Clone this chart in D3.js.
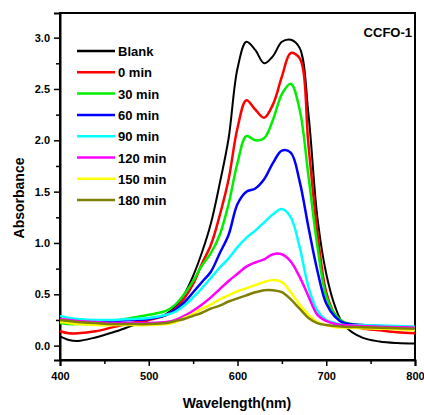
<!DOCTYPE html>
<html><head><meta charset="utf-8">
<script src="https://cdn.jsdelivr.net/npm/d3@7"></script>
<style>body{margin:0;background:#fff}svg{display:block}text{font-family:"Liberation Sans",Arial,sans-serif;font-weight:bold}</style>
</head><body><svg id="c" width="424" height="415"></svg>
<script>
const wavelengths = [400,410,420,440,460,480,500,520,530,540,550,560,570,580,590,600,610,620,630,640,650,660,670,680,690,700,710,720,740,760,780,800];
const seriesNames = ["Blank","0 min","30 min","60 min","90 min","120 min","150 min","180 min"];
const seriesColors = ["#000000","#ff0000","#00ee00","#0000ff","#00ffff","#ff00ff","#ffff00","#808000"];
const blank = [0.09,0.055,0.045,0.08,0.13,0.19,0.25,0.31,0.38,0.5,0.68,0.91,1.19,1.58,2.02,2.7,2.96,2.88,2.75,2.82,2.96,2.98,2.9,2.25,1.25,0.7,0.38,0.2,0.08,0.04,0.025,0.02];
const min0 = [0.14,0.12,0.12,0.14,0.18,0.22,0.25,0.3,0.36,0.46,0.6,0.8,0.98,1.27,1.62,2.12,2.39,2.3,2.22,2.35,2.62,2.85,2.8,1.95,1.1,0.52,0.3,0.22,0.17,0.15,0.13,0.12];
const min30 = [0.22,0.21,0.21,0.22,0.24,0.27,0.3,0.34,0.4,0.5,0.63,0.78,0.9,1.08,1.38,1.78,2.04,2.0,2.02,2.2,2.45,2.55,2.3,1.65,0.97,0.48,0.3,0.23,0.2,0.19,0.185,0.18];
const min60 = [0.25,0.24,0.24,0.23,0.24,0.25,0.26,0.3,0.35,0.42,0.52,0.62,0.72,0.9,1.08,1.38,1.5,1.53,1.62,1.78,1.9,1.88,1.6,1.15,0.73,0.41,0.28,0.22,0.2,0.19,0.185,0.18];
const min90 = [0.29,0.27,0.26,0.25,0.25,0.26,0.27,0.3,0.33,0.39,0.47,0.56,0.66,0.76,0.85,0.96,1.05,1.12,1.2,1.28,1.33,1.25,0.96,0.57,0.34,0.25,0.22,0.2,0.2,0.195,0.19,0.185];
const min120 = [0.26,0.25,0.24,0.23,0.22,0.22,0.22,0.23,0.25,0.29,0.34,0.4,0.47,0.55,0.63,0.7,0.77,0.81,0.84,0.89,0.89,0.82,0.67,0.48,0.3,0.24,0.21,0.2,0.19,0.185,0.18,0.175];
const min150 = [0.23,0.22,0.21,0.2,0.2,0.2,0.2,0.21,0.23,0.27,0.31,0.36,0.4,0.45,0.49,0.53,0.56,0.59,0.62,0.64,0.62,0.52,0.4,0.3,0.23,0.2,0.18,0.175,0.17,0.165,0.16,0.15];
const min180 = [0.25,0.24,0.23,0.22,0.21,0.21,0.21,0.22,0.24,0.26,0.29,0.32,0.36,0.39,0.43,0.46,0.49,0.52,0.54,0.54,0.52,0.45,0.36,0.27,0.22,0.2,0.19,0.185,0.18,0.175,0.17,0.165];
const allSeries = [blank,min0,min30,min60,min90,min120,min150,min180];
const xTicks = [400,500,600,700,800];
const yTicks = [0.0,0.5,1.0,1.5,2.0,2.5,3.0];

const svg = d3.select("#c");
const x = d3.scaleLinear().domain([400,800]).range([60,415]);
const y = d3.scaleLinear().domain([-0.14,3.24]).range([360,13]);

svg.append("rect").attr("x",60).attr("y",13).attr("width",355).attr("height",347)
  .attr("fill","none").attr("stroke","#000").attr("stroke-width",2);

const xAxis = d3.axisBottom(x).tickValues(xTicks).tickFormat(d3.format("d")).tickSize(6).tickPadding(6);
const gx = svg.append("g").attr("transform","translate(0,360)").call(xAxis);
const xMinor = d3.axisBottom(x).tickValues([450,550,650,750]).tickFormat("").tickSize(4);
svg.append("g").attr("transform","translate(0,360)").call(xMinor).select(".domain").remove();
const yAxis = d3.axisLeft(y).tickValues(yTicks).tickFormat(d3.format(".1f")).tickSize(6).tickPadding(4);
const gy = svg.append("g").attr("transform","translate(60,0)").call(yAxis);
const yMinor = d3.axisLeft(y).tickValues([0.25,0.75,1.25,1.75,2.25,2.75,3.25].filter(v=>v<3.24)).tickFormat("").tickSize(4);
svg.append("g").attr("transform","translate(60,0)").call(yMinor).select(".domain").remove();
svg.selectAll(".domain").attr("stroke-width",2);
svg.selectAll(".tick line").attr("stroke-width",1.5);
gx.selectAll("text").style("font-size","11px").attr("fill","#000");
gy.selectAll("text").style("font-size","11px").attr("fill","#000");

const line = d3.line().x((d,i)=>x(wavelengths[i])).y(d=>y(d)).curve(d3.curveCatmullRom.alpha(0.5));
allSeries.forEach((s,i)=>{
  svg.append("path").attr("d",line(s)).attr("fill","none")
    .attr("stroke",seriesColors[i]).attr("stroke-width",i===0?2:2.5)
    .attr("stroke-linejoin","round");
});

seriesNames.forEach((n,i)=>{
  const yy = 51 + i*21.3;
  svg.append("line").attr("x1",77).attr("x2",115).attr("y1",yy).attr("y2",yy)
    .attr("stroke",seriesColors[i]).attr("stroke-width",2.5);
  svg.append("text").attr("x",118).attr("y",yy+5).style("font-size","13px").text(n);
});

svg.append("text").attr("x",412).attr("y",37).attr("text-anchor","end").style("font-size","13px").text("CCFO-1");
svg.append("text").attr("x",237).attr("y",408).attr("text-anchor","middle").style("font-size","14px").text("Wavelength(nm)");
svg.append("text").attr("transform","translate(24,198) rotate(-90)").attr("text-anchor","middle").style("font-size","14px").text("Absorbance");
</script></body></html>
